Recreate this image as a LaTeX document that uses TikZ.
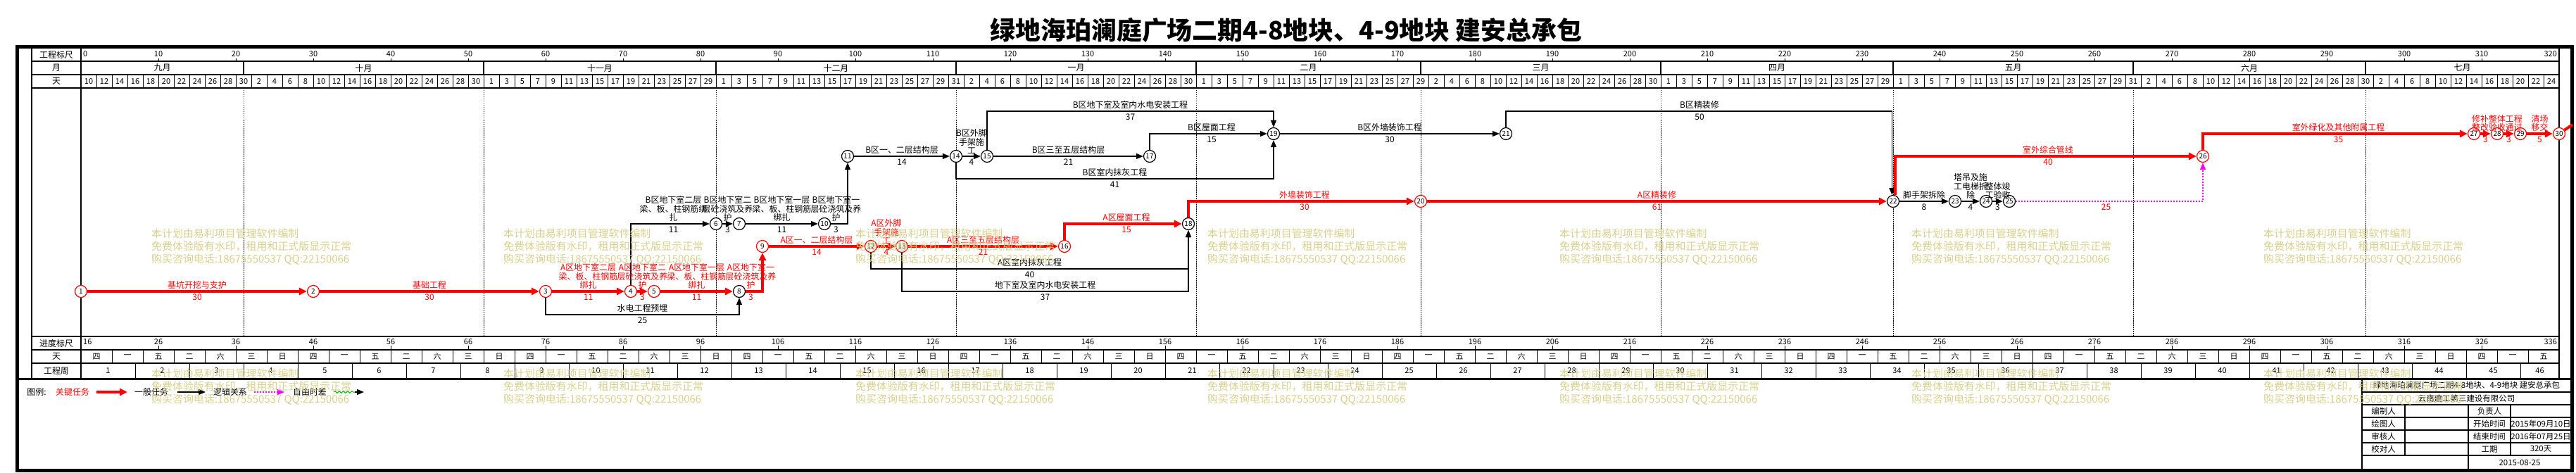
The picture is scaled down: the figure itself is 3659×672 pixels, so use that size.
\documentclass[tikz,border=0pt]{standalone}
\usepackage{fontspec}
\setmainfont{Noto Sans CJK SC}
\usetikzlibrary{arrows.meta,decorations.pathmorphing}
\definecolor{wmc}{RGB}{216,208,140}
\definecolor{crit}{RGB}{255,0,0}
\definecolor{virt}{RGB}{255,0,255}
\definecolor{ffl}{RGB}{0,190,0}
\newcommand\actl[5]{%
  \node[lab,text=#5,anchor=south] at (#1,#2-3) {#3};
  \node[durn,text=#5,anchor=north] at (#1,#2+4) {#4};}
\begin{document}
\begin{tikzpicture}[x=1bp,y=-1bp,
  grid/.style={line width=1.2bp},
  num/.style={inner sep=0pt,font=\fontsize{11}{11}\selectfont},
  hd/.style={inner sep=0pt,font=\fontsize{12}{12}\selectfont},
  ev/.style={circle,draw=black,line width=1.2bp,fill=white,minimum size=17bp,inner sep=0pt,font=\fontsize{10}{10}\selectfont},
  evc/.style={ev,draw=crit},
  nl/.style={draw=black,line width=1.3bp,-{Triangle[length=10bp,width=8bp]}},
  cl/.style={draw=crit,line width=4bp,-{Triangle[length=11bp,width=10bp]}},
  vl/.style={draw=virt,line width=1.5bp,dash pattern=on 1.5bp off 2.5bp,-{Triangle[length=10bp,width=8bp]}},
  lab/.style={inner sep=0pt,align=center,font=\fontsize{12}{12.5}\selectfont},
  durn/.style={inner sep=0pt,font=\fontsize{12}{12}\selectfont},
  mline/.style={line width=0.8bp,dash pattern=on 1.5bp off 1.5bp},
  tb/.style={inner sep=0pt,font=\fontsize{11.5}{11.5}\selectfont},
  wm/.style={inner sep=0pt,align=left,text=wmc,font=\fontsize{15}{18}\selectfont}
]
\useasboundingbox (0,0) rectangle (3659,672);
% ---------- title
\node[inner sep=0pt,font=\fontsize{36}{36}\selectfont\bfseries] (title) at (1827,43) {绿地海珀澜庭广场二期4-8地块、4-9地块 建安总承包};
% ---------- frame
\draw[line width=5bp] (24,67) rectangle (3653,668.5);
\draw[grid] (45,69) -- (45,538);
\draw[grid] (115,69) -- (115,538);
\draw[grid] (3635,69) -- (3635,538);
\foreach \yy in {87,106,125,497,516} \draw[grid] (45,\yy) -- (3635,\yy);
\draw[line width=2bp] (45,478) -- (3635,478);
\draw[line width=3bp] (24,538) -- (3653,538);
% ---------- header labels
\node[hd] at (80,78) {工程标尺};
\node[hd] at (80,96.5) {月};
\node[hd] at (80,115.5) {天};
\node[hd] at (80,487.5) {进度标尺};
\node[hd] at (80,506.5) {天};
\node[hd] at (80,527) {工程周};
% scale row
\foreach \k in {0,...,32}{%
  \pgfmathtruncatemacro\xx{115+110*\k}%
  \pgfmathtruncatemacro\lv{10*\k}%
  \pgfmathtruncatemacro\lw{16+10*\k}%
  \draw[line width=1bp] (\xx,83) -- (\xx,87);
  \draw[line width=1bp] (\xx,491) -- (\xx,497);
  \ifnum\k=0
    \node[num,anchor=west] at (\xx+3,77) {\lv};
    \node[num,anchor=west] at (\xx+3,486) {\lw};
  \else\ifnum\k=32
    \node[num,anchor=east] at (\xx-3,77) {\lv};
    \node[num,anchor=east] at (\xx-3,486) {\lw};
  \else
    \node[num] at (\xx,77) {\lv};
    \node[num] at (\xx,486) {\lw};
  \fi\fi
}
% months
\foreach \a/\b/\m in {0/21/九月,21/52/十月,52/82/十一月,82/113/十二月,113/144/一月,144/173/二月,173/204/三月,204/234/四月,234/265/五月,265/295/六月,295/320/七月}{%
  \node[hd] at ({115+11*(\a+\b)/2},96.5) {\m};
}
\foreach \b in {21,52,82,113,144,173,204,234,265,295}{%
  \draw[grid] ({115+11*\b},87) -- ({115+11*\b},106);
  \draw[mline] ({115+11*\b},125) -- ({115+11*\b},478);
}
% day cells
\foreach \k in {1,...,159} \draw[line width=1bp] ({115+22*\k},106) -- ({115+22*\k},125);
\foreach \sd/\sl/\n in {0/10/10,22/2/14,52/1/14,82/1/15,114/2/14,144/1/14,174/2/14,204/1/14,234/1/15,266/2/14,296/2/11}{%
  \foreach \i in {0,...,\n}{%
    \pgfmathtruncatemacro\dd{\sd+2*\i}%
    \pgfmathtruncatemacro\ll{\sl+2*\i}%
    \node[num] at ({126+11*\dd},115.5) {\ll};
  }
}
% weekday row
\foreach \k in {1,...,79} \draw[line width=1bp] ({115+44*\k},497) -- ({115+44*\k},516);
\foreach \k in {0,...,79}{%
  \pgfmathtruncatemacro\w{mod(\k,7)}%
  \node[num] at ({137+44*\k},506.5) {\ifcase\w 四\or 一\or 五\or 二\or 六\or 三\or 日\fi};
}
% week row
\foreach \k in {1,...,45} \draw[line width=1bp] ({115+77*\k},516) -- ({115+77*\k},538);
\foreach \k in {0,...,44}{%
  \pgfmathtruncatemacro\wk{\k+1}%
  \node[num] at ({153.5+77*\k},527) {\wk};
}
\node[num] at (3607.5,527) {46};
% ---------- events
\node[evc] (n1) at (115,414) {1};
\node[evc] (n2) at (445,414) {2};
\node[evc] (n3) at (775,414) {3};
\node[evc] (n4) at (896,414) {4};
\node[evc] (n5) at (929,414) {5};
\node[ev] (n8) at (1050,414) {8};
\node[ev] (n6) at (1017,318) {6};
\node[ev] (n7) at (1050,318) {7};
\node[ev] (n10) at (1171,318) {10};
\node[ev] (n11) at (1204,222) {11};
\node[evc] (n9) at (1083,350) {9};
\node[evc] (n12) at (1237,350) {12};
\node[evc] (n13) at (1281,350) {13};
\node[evc] (n16) at (1512,350) {16};
\node[ev] (n18) at (1688,318) {18};
\node[ev] (n14) at (1358,222) {14};
\node[ev] (n15) at (1402,222) {15};
\node[ev] (n17) at (1633,222) {17};
\node[ev] (n19) at (1809,190) {19};
\node[evc] (n20) at (2018,286) {20};
\node[ev] (n21) at (2139,190) {21};
\node[ev] (n22) at (2689,286) {22};
\node[ev] (n23) at (2777,286) {23};
\node[ev] (n24) at (2821,286) {24};
\node[ev] (n25) at (2854,286) {25};
\node[evc] (n26) at (3129,222) {26};
\node[evc] (n27) at (3514,190) {27};
\node[evc] (n28) at (3547,190) {28};
\node[evc] (n29) at (3580,190) {29};
\node[evc] (n30) at (3635,190) {30};
\coordinate (e30) at (3654,177);
% ---------- connectors
\draw[cl] (n1) -- (n2);
\draw[cl] (n2) -- (n3);
\draw[cl] (n3) -- (n4);
\draw[cl] (n4) -- (n5);
\draw[cl] (n5) -- (n8);
\draw[cl] (n8) -| (n9);
\draw[nl] (n3) |- (n8 |- 0,447) -- (n8);
\draw[nl] (n4) |- (n6);
\draw[nl] (n6) -- (n7);
\draw[nl] (n7) -- (n10);
\draw[nl] (n10) -| (n11);
\draw[cl] (n9) -- (n12);
\draw[cl] (n12) -- (n13);
\draw[cl] (n13) -- (n16);
\draw[cl] (n16) |- (n18);
\draw[nl] (n12) |- (n18 |- 0,382) -- (n18);
\draw[nl] (n13) |- (n18 |- 0,414) -- (n18);
\draw[nl] (n11) -- (n14);
\draw[nl] (n14) -- (n15);
\draw[nl] (n15) -- (n17);
\draw[nl] (n17) |- (n19);
\draw[nl] (n15) |- (n19 |- 0,158) -- (n19);
\draw[nl] (n14) |- (n19 |- 0,254) -- (n19);
\draw[cl] (n18) |- (n20);
\draw[nl] (n19) -- (n21);
\draw[cl] (n20) -- (n22);
\draw[nl] (n21) |- (n22.100 |- 0,158) -- (n22.100);
\draw[nl] (n22) -- (n23);
\draw[nl] (n23) -- (n24);
\draw[nl] (n24) -- (n25);
\draw[vl] (n25) -| (n26);
\draw[cl] (n22.70) |- (n26);
\draw[cl] (n26) |- (n27);
\draw[cl] (n27) -- (n28);
\draw[cl] (n28) -- (n29);
\draw[cl] (n29) -- (n30);
\draw[draw=crit,line width=4bp] (n30) -- (e30);
% ---------- activity labels
\actl{280}{414}{基坑开挖与支护}{30}{crit}
\actl{610}{414}{基础工程}{30}{crit}
\actl{835.5}{414}{A区地下室二层\\梁、板、柱钢筋\\绑扎}{11}{crit}
\actl{912.5}{414}{A区地下室二\\层砼浇筑及养\\护}{3}{crit}
\actl{989.5}{414}{A区地下室一层\\梁、板、柱钢筋\\绑扎}{11}{crit}
\actl{1066.5}{414}{A区地下室一\\层砼浇筑及养\\护}{3}{crit}
\actl{912.5}{447}{水电工程预埋}{25}{black}
\actl{956.5}{318}{B区地下室二层\\梁、板、柱钢筋绑\\扎}{11}{black}
\actl{1033.5}{318}{B区地下室二\\层砼浇筑及养\\护}{3}{black}
\actl{1110.5}{318}{B区地下室一层\\梁、板、柱钢筋\\绑扎}{11}{black}
\actl{1187.5}{318}{B区地下室一\\层砼浇筑及养\\护}{3}{black}
\actl{1160}{350}{A区一、二层结构层}{14}{crit}
\actl{1259}{350}{A区外脚\\手架施\\工}{4}{crit}
\actl{1396.5}{350}{A区三至五层结构层}{21}{crit}
\actl{1600}{318}{A区屋面工程}{15}{crit}
\actl{1462.5}{382}{A区室内抹灰工程}{40}{black}
\actl{1484.5}{414}{地下室及室内水电安装工程}{37}{black}
\actl{1281}{222}{B区一、二层结构层}{14}{black}
\actl{1380}{222}{B区外脚\\手架施\\工}{4}{black}
\actl{1517.5}{222}{B区三至五层结构层}{21}{black}
\actl{1721}{190}{B区屋面工程}{15}{black}
\actl{1605.5}{158}{B区地下室及室内水电安装工程}{37}{black}
\actl{1583.5}{254}{B区室内抹灰工程}{41}{black}
\actl{1853}{286}{外墙装饰工程}{30}{crit}
\actl{1974}{190}{B区外墙装饰工程}{30}{black}
\actl{2353.5}{286}{A区精装修}{61}{crit}
\actl{2414}{158}{B区精装修}{50}{black}
\actl{2733}{286}{脚手架拆除}{8}{black}
\actl{2799}{286}{塔吊及施\\工电梯拆\\除}{4}{black}
\actl{2837.5}{286}{整体竣\\工验收}{3}{black}
\node[durn,text=crit,anchor=north] at (2991.5,290) {25};
\actl{2909}{222}{室外综合管线}{40}{crit}
\actl{3321.5}{190}{室外绿化及其他附属工程}{35}{crit}
\node[lab,text=crit,anchor=south] at (3547,175) {修补整体工程};
\node[lab,text=crit,anchor=south] at (3547,187) {整改验收通过};
\node[durn,text=crit,anchor=north] at (3530.5,194) {3};
\node[durn,text=crit,anchor=north] at (3563.5,194) {3};
\actl{3607.5}{190}{清场\\移交}{5}{crit}
% ---------- legend
\node[hd] (lg0) at (52,557) {图例:};
\node[hd,text=crit] (lg1) at (103,557) {关键任务};
\coordinate (la1) at (137,557); \coordinate (lb1) at (181,557);
\draw[cl] (la1) -- (lb1);
\node[hd] (lg2) at (215,557) {一般任务};
\coordinate (la2) at (252,557); \coordinate (lb2) at (292,557);
\draw[nl] (la2) -- (lb2);
\node[hd] (lg3) at (327,557) {逻辑关系};
\coordinate (la3) at (361,557); \coordinate (lb3) at (404,557);
\draw[vl] (la3) -- (lb3);
\node[hd] (lg4) at (440,557) {自由时差};
\coordinate (la4) at (474,557); \coordinate (lb4) at (504,557); \coordinate (lc4) at (517,557);
\draw[ffl,line width=1bp,decorate,decoration={snake,amplitude=1.5bp,segment length=6bp}] (la4) -- (lb4);
\draw[nl] (lb4) -- (lc4);
% ---------- title block
\draw[line width=1.5bp] (3355,538) -- (3355,668);
\foreach \yy in {557,575,593,611,629,647} \draw[grid] (3355,\yy) -- (3653,\yy);
\draw[grid] (3416,575) -- (3416,647);
\draw[grid] (3566,575) -- (3566,647);
\draw[grid] (3506,575) -- (3506,668);
\node[tb] at (3503.5,547.5) {绿地海珀澜庭广场二期4-8地块、4-9地块 建安总承包};
\node[tb] at (3503.5,566) {云南建工第三建设有限公司};
\node[tb] at (3385.5,584) {编制人};
\node[tb] at (3385.5,602) {绘图人};
\node[tb] at (3385.5,620) {审核人};
\node[tb] at (3385.5,638) {校对人};
\node[tb] at (3536,584) {负责人};
\node[tb] at (3536,602) {开始时间};
\node[tb] at (3536,620) {结束时间};
\node[tb] at (3536,638) {工期};
\node[tb] at (3609,602) {2015年09月10日};
\node[tb] at (3609,620) {2016年07月25日};
\node[tb] at (3609,638) {320天};
\node[tb] at (3579,657.5) {2015-08-25};
% ---------- watermark
\foreach \wx in {215,715,1215,1715,2215,2715,3215}{%
  \foreach \wy in {325,524}{%
    \node[wm,anchor=north west] at (\wx,\wy) {本计划由易利项目管理软件编制\\免费体验版有水印，租用和正式版显示正常\\购买咨询电话:18675550537 QQ:22150066};
  }
}
\end{tikzpicture}
\end{document}
